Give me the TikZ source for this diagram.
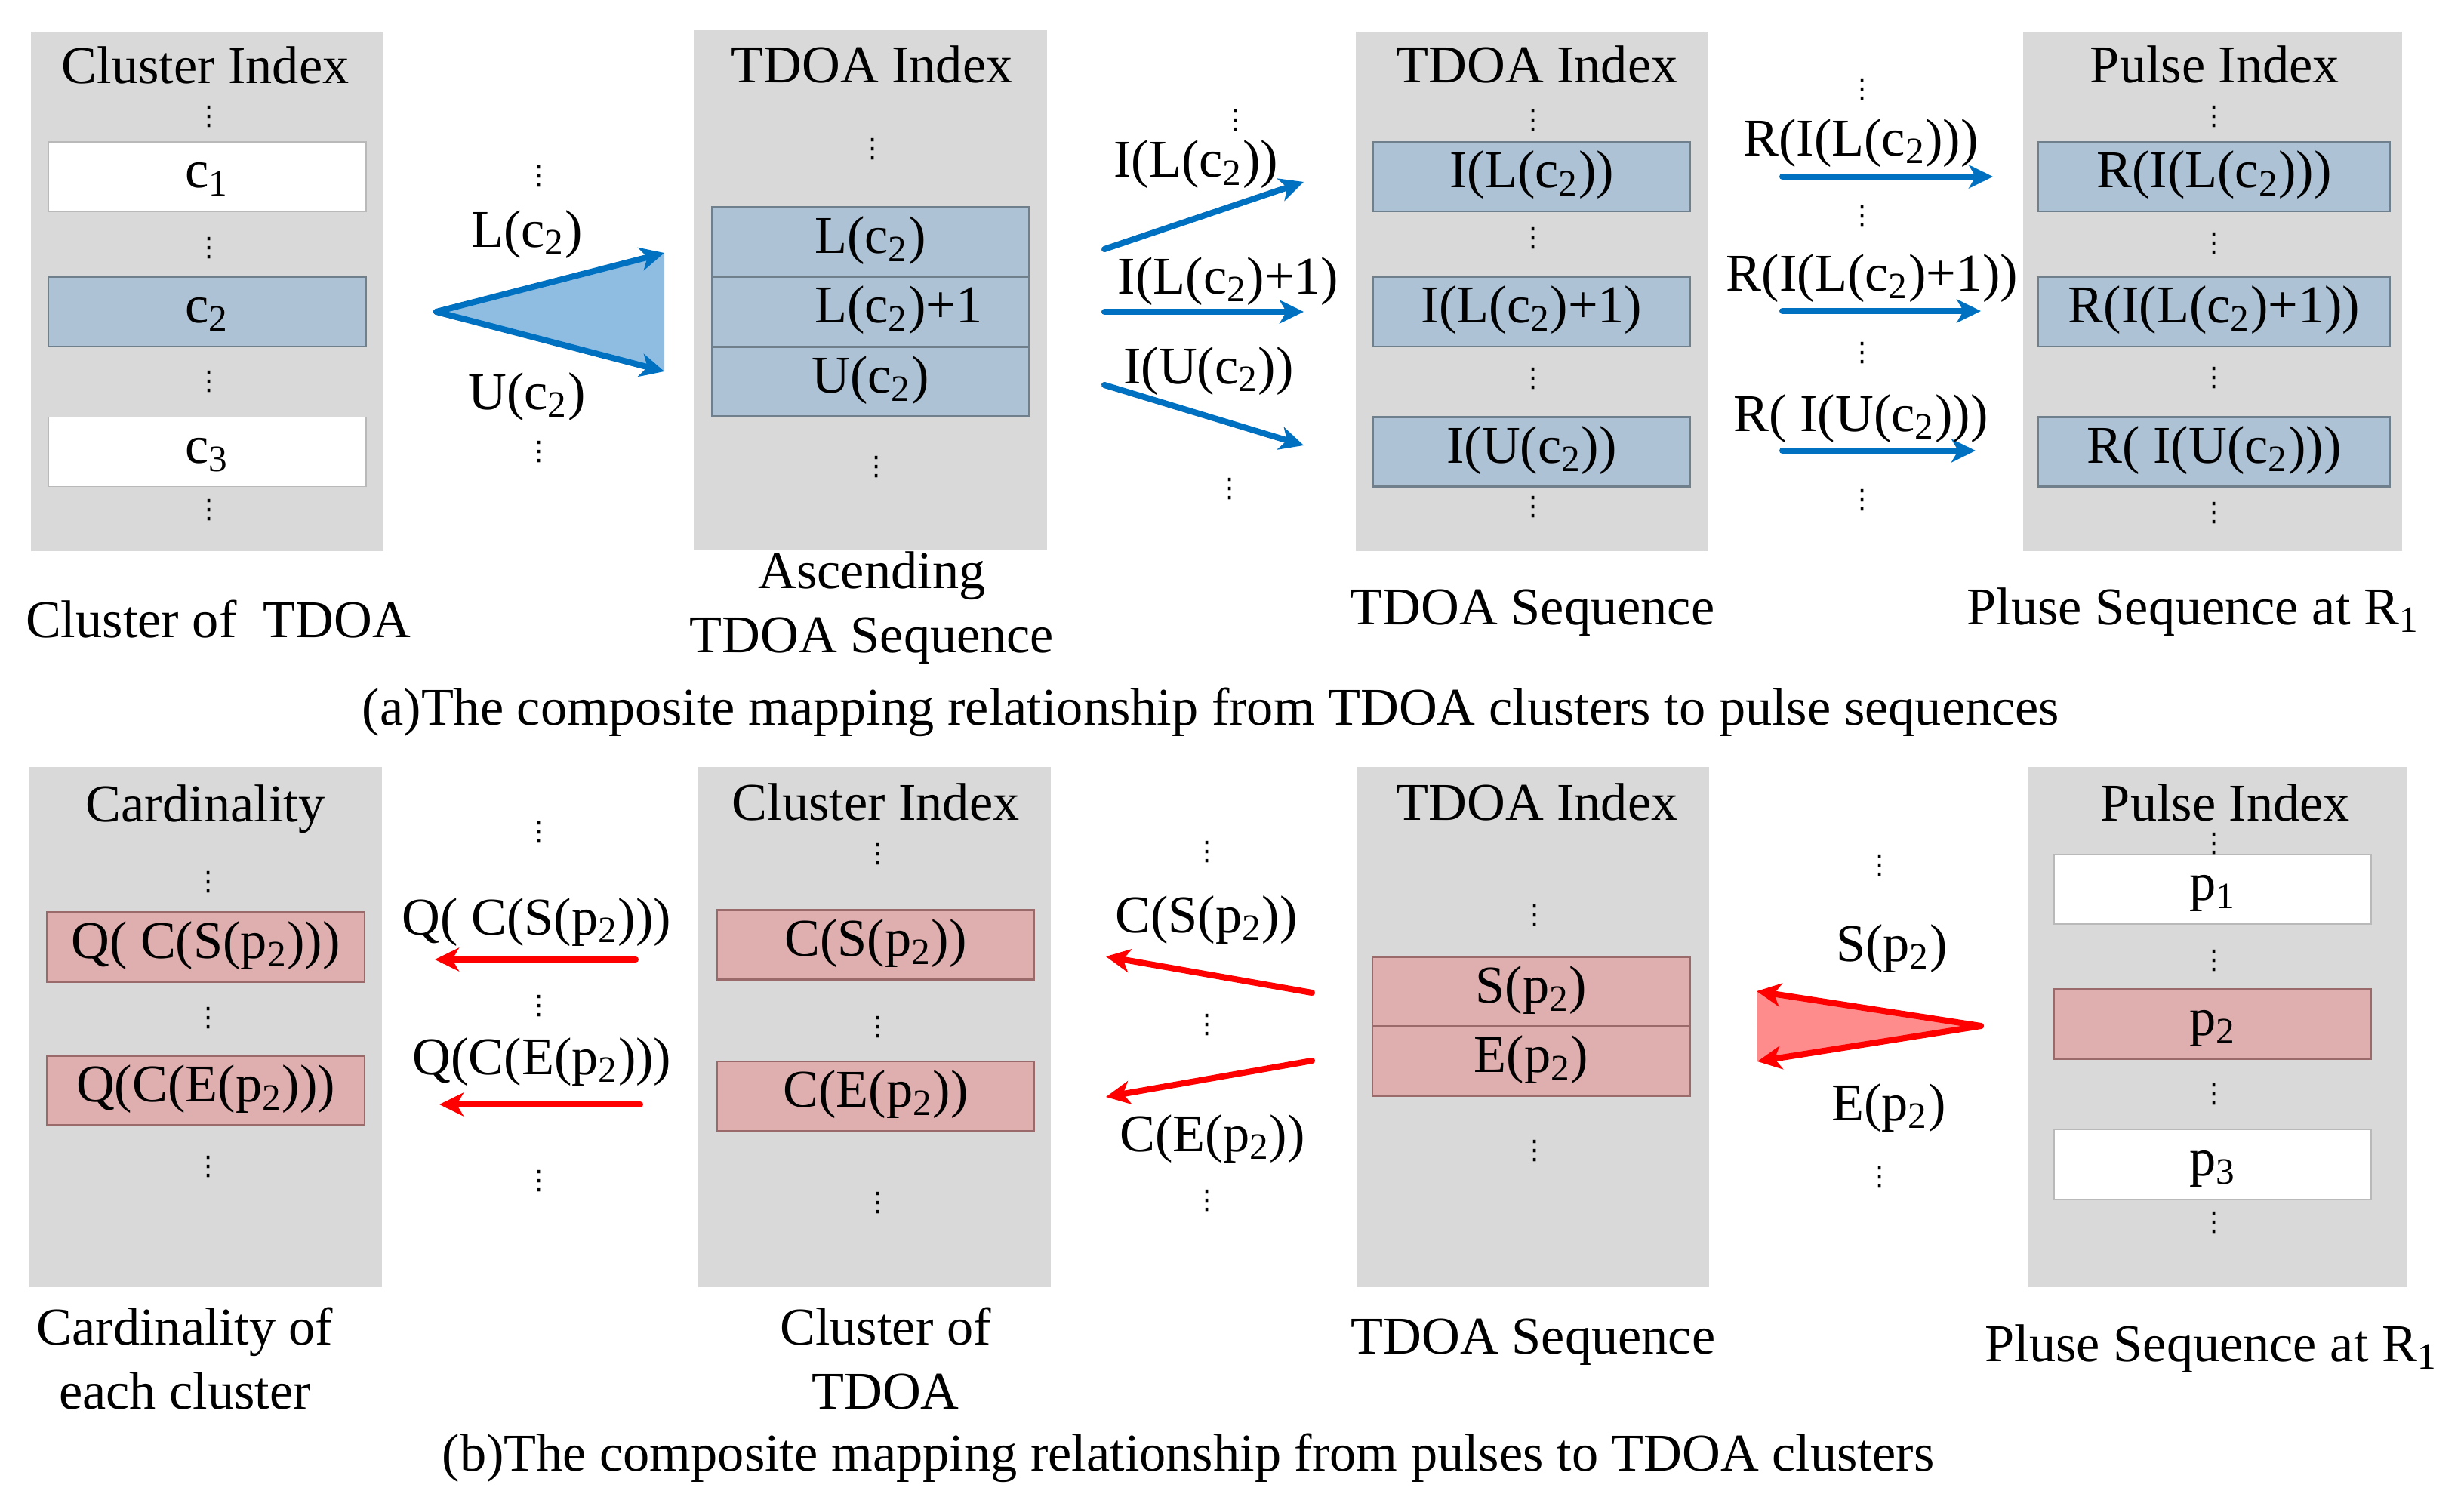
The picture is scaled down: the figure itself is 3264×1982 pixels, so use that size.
\documentclass[tikz,border=0pt]{standalone}
\usepackage{fontspec}
\setmainfont{Liberation Serif}
\newfontfamily\dotsfont{DejaVu Sans}
\usetikzlibrary{arrows.meta}

\definecolor{boxgray}{HTML}{D9D9D9}
\definecolor{cellblue}{HTML}{ADC2D4}
\definecolor{cellblueline}{HTML}{6F808C}
\definecolor{cellpink}{HTML}{DFAEAE}
\definecolor{cellpinkline}{HTML}{9A6A6A}
\definecolor{arrblue}{HTML}{0070C0}
\definecolor{fillblue}{HTML}{8EBDE1}
\definecolor{fillred}{HTML}{FF8C8C}
\newcommand{\vd}{{\dotsfont\fontsize{10}{10}\selectfont ⋮}}

\begin{document}
\begin{tikzpicture}[x=0.01cm, y=-0.01cm, font=\fontsize{20}{24}\selectfont,
    panel/.style={fill=boxgray, minimum width=4.67cm, minimum height=6.88cm, inner sep=0pt},
    cell/.style={minimum width=4.2cm, minimum height=0.92cm, inner sep=0pt, text height=0.95em, text depth=0.1em},
    wcell/.style={cell, fill=white, draw=gray!55, line width=0.5pt},
    bcell/.style={cell, fill=cellblue, draw=cellblueline, line width=0.6pt},
    pcell/.style={cell, fill=cellpink, draw=cellpinkline, line width=0.6pt},
    lbl/.style={anchor=base, inner sep=0pt},
    barr/.style={draw=arrblue, line width=2.3pt, line cap=round, -{Stealth[length=3.2mm, width=3.1mm, inset=0.9mm]}},
    rarr/.style={barr, draw=red}]
    \useasboundingbox (0,0) rectangle (3264,1982);

    % (a) from TDOA clusters to pulse sequences
    \node[panel] (a1) at (274.5,386) {};
    \node[lbl] (a1t) at (272,111) {Cluster Index};
    \node[wcell] (c1) at (274.5,234) {c\textsubscript{1}};
    \node[bcell] (c2) at (274.5,413) {c\textsubscript{2}};
    \node[wcell] (c3) at (274.5,598.5) {c\textsubscript{3}};
    \node[lbl] (a1s) at (289,844) {Cluster of~ TDOA};

    \node[panel] (a2) at (1153,384) {};
    \node[lbl] (a2t) at (1155,110) {TDOA Index};
    \node[bcell] (l1) at (1153,320.5) {L(c\textsubscript{2})};
    \node[bcell] (l2) at (1153,413) {L(c\textsubscript{2})\rlap{+1}};
    \node[bcell] (l3) at (1153,505.5) {U(c\textsubscript{2})};
    \node[lbl, align=center] (a2s) at (1155,864) {Ascending\\TDOA Sequence};

    \node[panel] (a3) at (2029.5,386) {};
    \node[lbl] (a3t) at (2036,110) {TDOA Index};
    \node[bcell] (i1) at (2029,234) {I(L(c\textsubscript{2}))};
    \node[bcell] (i2) at (2029,413) {I(L(c\textsubscript{2})+1)};
    \node[bcell] (i3) at (2029,598.5) {I(U(c\textsubscript{2}))};
    \node[lbl] (a3s) at (2030,827) {TDOA Sequence};

    \node[panel, minimum width=5.02cm] (a4) at (2931,386) {};
    \node[lbl] (a4t) at (2934,110) {Pulse Index};
    \node[bcell, minimum width=4.66cm] (r1) at (2933,234) {R(I(L(c\textsubscript{2})))};
    \node[bcell, minimum width=4.66cm] (r2) at (2933,413) {R(I(L(c\textsubscript{2})+1))};
    \node[bcell, minimum width=4.66cm] (r3) at (2933,598.5) {R( I(U(c\textsubscript{2})))};
    \node[lbl] (a4s) at (2905,827) {Pluse Sequence at R\textsubscript{1}};

    % blue mappings
    \coordinate (ta) at (578,413);
    \coordinate (tb) at (880,335);
    \coordinate (tc) at (880,492);
    \fill[fillblue] (ta) -- (tb) -- (tc) -- cycle;
    \draw[barr] (ta) -- (tb);
    \draw[barr] (ta) -- (tc);
    \node[lbl] (lL) at (698,327) {L(c\textsubscript{2})};
    \node[lbl] (lU) at (698,542) {U(c\textsubscript{2})};

    \coordinate (s1) at (1463,330);  \coordinate (e1) at (1727,241);
    \coordinate (s2) at (1463,413);  \coordinate (e2) at (1727,413);
    \coordinate (s3) at (1463,510);  \coordinate (e3) at (1727,590);
    \draw[barr] (s1) -- (e1);
    \draw[barr] (s2) -- (e2);
    \draw[barr] (s3) -- (e3);
    \node[lbl] (lI1) at (1584,235) {I(L(c\textsubscript{2}))};
    \node[lbl] (lI2) at (1627,389) {I(L(c\textsubscript{2})+1)};
    \node[lbl] (lI3) at (1601,508) {I(U(c\textsubscript{2}))};

    \coordinate (u1) at (2361,234);  \coordinate (v1) at (2640,234);
    \coordinate (u2) at (2361,412);  \coordinate (v2) at (2624,412);
    \coordinate (u3) at (2361,597);  \coordinate (v3) at (2617,597);
    \draw[barr] (u1) -- (v1);
    \draw[barr] (u2) -- (v2);
    \draw[barr] (u3) -- (v3);
    \node[lbl] (lR1) at (2465,206) {R(I(L(c\textsubscript{2})))};
    \node[lbl] (lR2) at (2480,385) {R(I(L(c\textsubscript{2})+1))};
    \node[lbl] (lR3) at (2465,571) {R( I(U(c\textsubscript{2})))};

    \node[lbl] (capa) at (1604,960) {(a)The composite mapping relationship from TDOA clusters to pulse sequences};

    % (b) from pulses to TDOA clusters
    \node[panel] (b1) at (272.5,1360.5) {};
    \node[lbl] (b1t) at (272,1088) {Cardinality};
    \node[pcell] (q1) at (272.5,1254.5) {Q( C(S(p\textsubscript{2})))};
    \node[pcell] (q2) at (272.5,1444.5) {Q(C(E(p\textsubscript{2})))};
    \node[lbl, align=center] (b1s) at (245,1866) {Cardinality of\\each cluster};

    \node[panel] (b2) at (1158.5,1360.5) {};
    \node[lbl] (b2t) at (1160,1086) {Cluster Index};
    \node[pcell] (k1) at (1160,1251.5) {C(S(p\textsubscript{2}))};
    \node[pcell] (k2) at (1160,1452) {C(E(p\textsubscript{2}))};
    \node[lbl, align=center] (b2s) at (1173,1866) {Cluster of\\TDOA};

    \node[panel] (b3) at (2030.5,1360.5) {};
    \node[lbl] (b3t) at (2036,1086) {TDOA Index};
    \node[pcell] (sp) at (2028.5,1313.5) {S(p\textsubscript{2})};
    \node[pcell] (ep) at (2028.5,1405.5) {E(p\textsubscript{2})};
    \node[lbl] (b3s) at (2031,1793) {TDOA Sequence};

    \node[panel, minimum width=5.02cm] (b4) at (2938,1360.5) {};
    \node[lbl] (b4t) at (2948,1087) {Pulse Index};
    \node[wcell] (p1) at (2931,1178) {p\textsubscript{1}};
    \node[pcell] (p2) at (2931,1356.5) {p\textsubscript{2}};
    \node[wcell] (p3) at (2931,1542.5) {p\textsubscript{3}};
    \node[lbl] (b4s) at (2929,1803) {Pluse Sequence at R\textsubscript{1}};

    % red mappings
    \coordinate (ra) at (2624,1359);
    \coordinate (rb) at (2327,1313);
    \coordinate (rc) at (2328,1406);
    \fill[fillred] (ra) -- (rb) -- (rc) -- cycle;
    \draw[rarr] (ra) -- (rb);
    \draw[rarr] (ra) -- (rc);
    \node[lbl] (lS) at (2506,1273) {S(p\textsubscript{2})};
    \node[lbl] (lE) at (2502,1484) {E(p\textsubscript{2})};

    \coordinate (m1) at (1738,1315);  \coordinate (n1) at (1465,1267);
    \coordinate (m2) at (1738,1405);  \coordinate (n2) at (1465,1453);
    \draw[rarr] (m1) -- (n1);
    \draw[rarr] (m2) -- (n2);
    \node[lbl] (lC1) at (1598,1235) {C(S(p\textsubscript{2}))};
    \node[lbl] (lC2) at (1606,1525) {C(E(p\textsubscript{2}))};

    \coordinate (g1) at (842,1271);  \coordinate (h1) at (576,1271);
    \coordinate (g2) at (848,1463);  \coordinate (h2) at (582,1463);
    \draw[rarr] (g1) -- (h1);
    \draw[rarr] (g2) -- (h2);
    \node[lbl] (lQ1) at (711,1238) {Q( C(S(p\textsubscript{2})))};
    \node[lbl] (lQ2) at (718,1423) {Q(C(E(p\textsubscript{2})))};

    \node[lbl] (capb) at (1574,1948) {(b)The composite mapping relationship from pulses to TDOA clusters};

    % vertical dots
    \foreach \x/\y [count=\i] in {277/155, 277/329, 277/506, 277/676, 714/234, 714/599,
        1156/198, 1161/619, 1637/160, 1629/648, 2031/160, 2031/316, 2031/502, 2031/672,
        2467/119, 2467/287, 2467/468, 2467/663, 2933/155, 2933/323, 2933/501, 2933/680,
        276/1169, 276/1349, 276/1546, 714/1103, 714/1333, 714/1565,
        1163/1132, 1163/1361, 1163/1594, 1599/1129, 1599/1358, 1599/1591,
        2033/1213, 2033/1525, 2490/1147, 2490/1560,
        2933/1118, 2933/1273, 2933/1450, 2933/1620}
        \node[inner sep=0pt] (vd\i) at (\x,\y) {\vd};
\end{tikzpicture}
\end{document}
